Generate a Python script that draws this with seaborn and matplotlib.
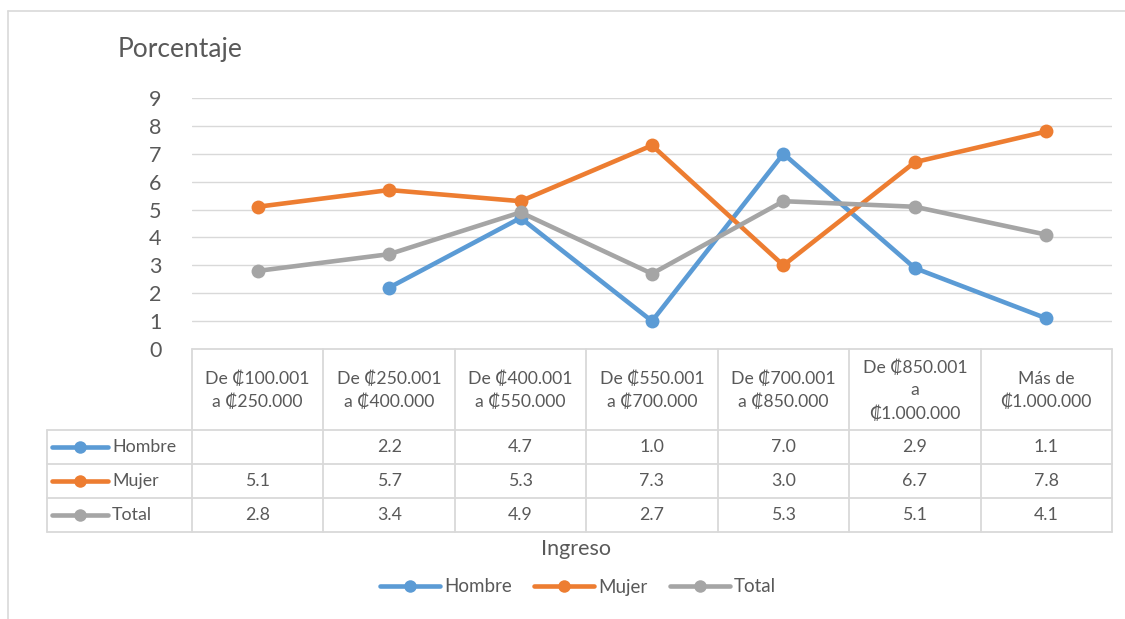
import numpy as np
import pandas as pd
import matplotlib
matplotlib.use("Agg")
import matplotlib.pyplot as plt
import seaborn as sns
from matplotlib.lines import Line2D

categorias = [
    "De ₡100.001\na ₡250.000",
    "De ₡250.001\na ₡400.000",
    "De ₡400.001\na ₡550.000",
    "De ₡550.001\na ₡700.000",
    "De ₡700.001\na ₡850.000",
    "De ₡850.001\na\n₡1.000.000",
    "Más de\n₡1.000.000",
]
hombre = [np.nan, 2.2, 4.7, 1.0, 7.0, 2.9, 1.1]
mujer = [5.1, 5.7, 5.3, 7.3, 3.0, 6.7, 7.8]
total = [2.8, 3.4, 4.9, 2.7, 5.3, 5.1, 4.1]
series = ["Hombre", "Mujer", "Total"]
colores = ["#5B9BD5", "#ED7D31", "#A5A5A5"]
y_ticks = list(range(0, 10))

sns.set_theme(style="white")
FAM = ["Lato", "DejaVu Sans"]
plt.rcParams["font.family"] = FAM
TXT = "#595959"
GRID = "#D9D9D9"

W, H = 1125, 619
fig = plt.figure(figsize=(W / 100, H / 100), dpi=100)

def fx(px):
    return px / W

def fy(py):
    return 1 - py / H

L, R, T, B = 192, 1112, 98, 349
ax = fig.add_axes([fx(L), fy(B), fx(R) - fx(L), fy(T) - fy(B)])

valores = {"Hombre": hombre, "Mujer": mujer, "Total": total}
rows = []
for s in series:
    for i, v in enumerate(valores[s]):
        rows.append({"idx": i, "valor": v, "serie": s})
df = pd.DataFrame(rows)

sns.lineplot(data=df, x="idx", y="valor", hue="serie", hue_order=series,
             palette=colores, marker="o", markersize=10, markeredgewidth=0,
             linewidth=3.3, legend=False, ax=ax, sort=False)

ax.set_xlim(-0.5, len(categorias) - 0.5)
ax.set_ylim(0, 9)
ax.set_yticks(y_ticks)
ax.set_yticklabels([str(t) for t in y_ticks], fontsize=15.5, color=TXT)
ax.tick_params(axis="y", length=0, pad=22)
ax.set_xticks([])
ax.set_xlabel("")
ax.set_ylabel("")
for t in y_ticks[1:]:
    ax.axhline(t, color=GRID, lw=1.0, zorder=0)
for sp in ax.spines.values():
    sp.set_visible(False)
ax.patch.set_alpha(0)

# Figure border
fig.add_artist(Line2D([fx(8), fx(1125)], [fy(11), fy(11)], color=GRID, lw=1.2))
fig.add_artist(Line2D([fx(8), fx(8)], [fy(11), fy(619)], color=GRID, lw=1.2))

fig.text(fx(118), fy(50), "Porcentaje", fontsize=19, color=TXT, ha="left", va="center")

# Data table
n = len(categorias)
cw = (R - L) / n
xs = [L + cw * i for i in range(n + 1)]
rows_y = [B, 430, 464, 498, 532]
LC = 47
tl = 1.3
for i, x in enumerate(xs):
    fig.add_artist(Line2D([fx(x), fx(x)], [fy(B), fy(rows_y[-1])], color=GRID, lw=tl))
fig.add_artist(Line2D([fx(LC), fx(LC)], [fy(rows_y[1]), fy(rows_y[-1])], color=GRID, lw=tl))
fig.add_artist(Line2D([fx(L), fx(R)], [fy(B), fy(B)], color=GRID, lw=tl))
for y in rows_y[1:]:
    fig.add_artist(Line2D([fx(LC), fx(R)], [fy(y), fy(y)], color=GRID, lw=tl))

for i, c in enumerate(categorias):
    fig.text(fx(L + cw * (i + 0.5)), fy((B + rows_y[1]) / 2 + 1), c, ha="center", va="center",
             fontsize=12.7, color=TXT, linespacing=1.5, family=FAM)

for r, (s, col) in enumerate(zip(series, colores)):
    yc = (rows_y[r + 1] + rows_y[r + 2]) / 2
    fig.add_artist(Line2D([fx(52), fx(108)], [fy(yc), fy(yc)], color=col, lw=3.3,
                          solid_capstyle="round"))
    fig.add_artist(Line2D([fx(80)], [fy(yc)], color=col, marker="o", markersize=9,
                          markeredgewidth=0, lw=0))
    fig.text(fx(112), fy(yc), s, ha="left", va="center", fontsize=12.8, color=TXT)
    for i, v in enumerate(valores[s]):
        if not np.isnan(v):
            fig.text(fx(L + cw * (i + 0.5)), fy(yc), f"{v:.1f}", ha="center", va="center",
                     fontsize=12.8, color=TXT)

fig.text(fx(576), fy(549), "Ingreso", ha="center", va="center", fontsize=15.5, color=TXT)

handles = [Line2D([0], [0], color=c, lw=3.3, marker="o", markersize=9,
                  markeredgewidth=0, solid_capstyle="round") for c in colores]
fig.legend(handles, series, loc="center", bbox_to_anchor=(fx(578), fy(587)), ncol=3,
           frameon=False, fontsize=13.5, handlelength=3.2, handletextpad=0.2,
           columnspacing=1.2, labelcolor=TXT)

fig.savefig("out.png", dpi=100)
